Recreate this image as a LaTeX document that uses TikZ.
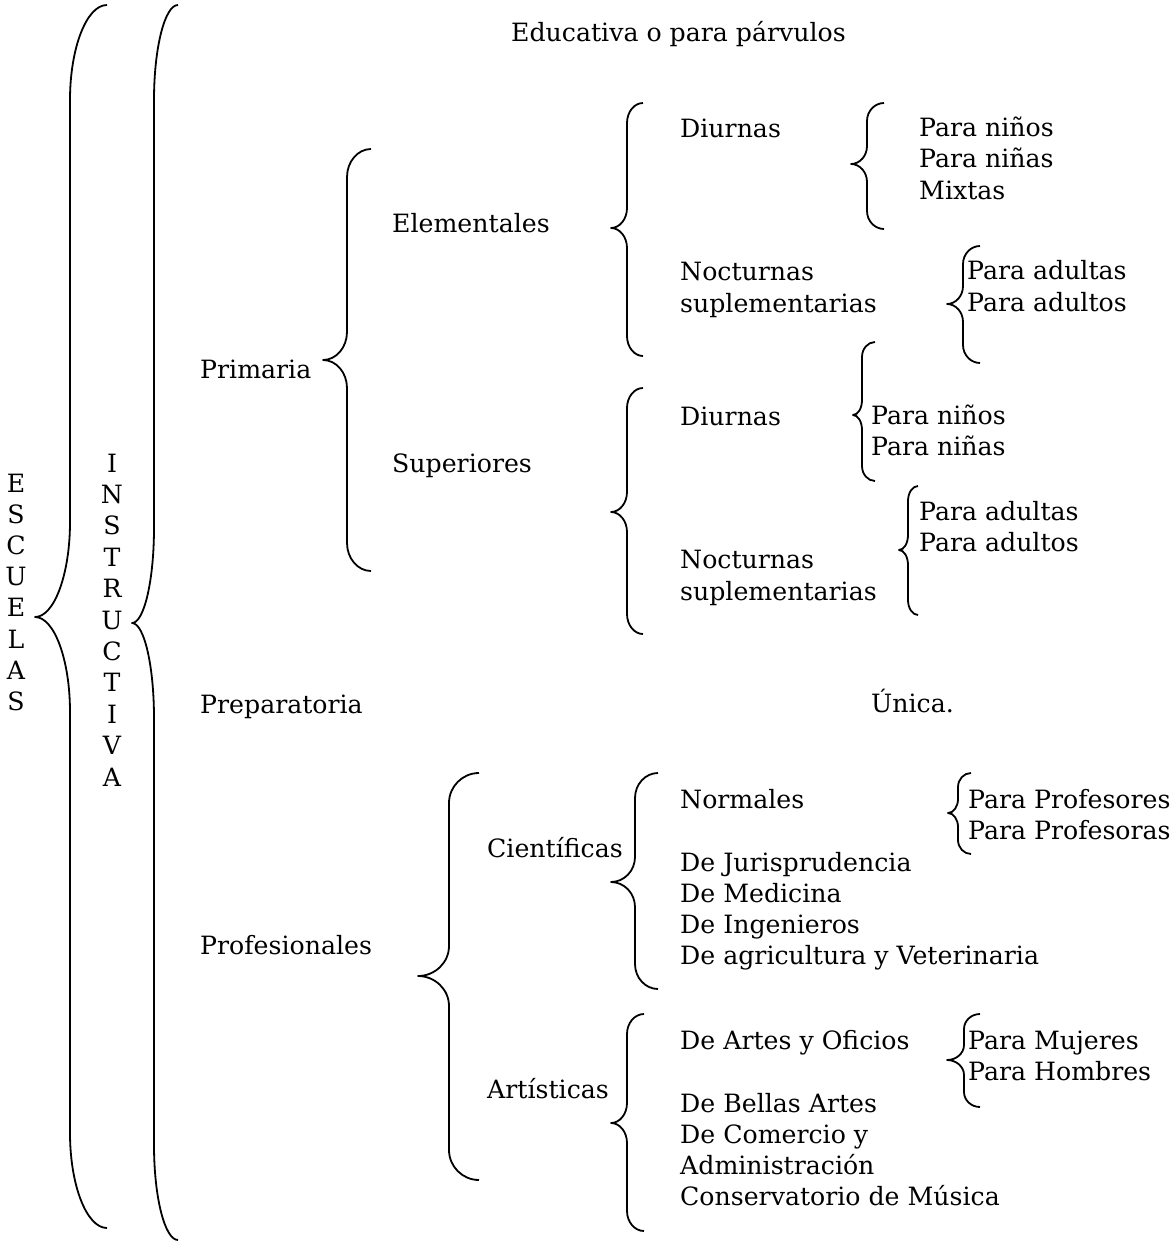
\documentclass[tikz,border=0pt]{standalone}
\usepackage{fontspec}
\setmainfont{DejaVu Serif}
\usetikzlibrary{positioning}
% brace: ends x, stem x, tip x, top y, tip y, bottom y, curve length
\newcommand{\curly}[7]{%
  \draw[brace] (#1,#4) .. controls ({#1-0.55*(#1-#2)},#4) and (#2,{#4+0.45*#7}) .. (#2,{#4+#7})
    -- (#2,{#5-#7}) .. controls (#2,{#5-0.45*#7}) and ({#3+0.55*(#2-#3)},#5) .. (#3,#5)
    .. controls ({#3+0.55*(#2-#3)},#5) and (#2,{#5+0.45*#7}) .. (#2,{#5+#7})
    -- (#2,{#6-#7}) .. controls (#2,{#6-0.45*#7}) and ({#1-0.55*(#1-#2)},#6) .. (#1,#6);}

\begin{document}
\begin{tikzpicture}[x=1pt,y=-1pt,
    txt/.style={inner sep=0pt, anchor=base west, font=\fontsize{25.2}{30}\selectfont},
    brace/.style={line width=1.8pt, line join=round}]
        \useasboundingbox (0,0) rectangle (1171,1242);
        %vertical words
        \foreach \l [count=\i from 0] in {E,S,C,U,E,L,A,S}
          \node[txt, anchor=base] (esc\i) at (16,{492+31.2*\i}) {\l};
        \foreach \l [count=\i from 0] in {I,N,S,T,R,U,C,T,I,V,A}
          \node[txt, anchor=base] (ins\i) at (112,{472+31.4*\i}) {\l};
        %first level
        \node[txt] (educ) at (511,41) {Educativa o para párvulos};
        \node[txt] (prim) at (200,378) {Primaria};
        \node[txt] (prep) at (200,713) {Preparatoria};
        \node[txt] (unica) at (871,712) {Única.};
        \node[txt] (prof) at (200,954) {Profesionales};
        %primaria
        \node[txt] (elem) at (392,232) {Elementales};
        \node[txt] (sup) at (392,472) {Superiores};
        \node[txt] (diurA) at (680,137) {Diurnas};
        \node[txt] (nocA) at (680,280) {Nocturnas};
        \node[txt] (suplA) at (680,312) {suplementarias};
        \node[txt] (ninosA) at (919,136) {Para niños};
        \node[txt] (ninasA) at (919,167) {Para niñas};
        \node[txt] (mixtas) at (919,199) {Mixtas};
        \node[txt] (adultasA) at (967,279) {Para adultas};
        \node[txt] (adultosA) at (967,311) {Para adultos};
        \node[txt] (diurB) at (680,425) {Diurnas};
        \node[txt] (ninosB) at (871,424) {Para niños};
        \node[txt] (ninasB) at (871,455) {Para niñas};
        \node[txt] (nocB) at (680,568) {Nocturnas};
        \node[txt] (suplB) at (680,600) {suplementarias};
        \node[txt] (adultasB) at (919,520) {Para adultas};
        \node[txt] (adultosB) at (919,551) {Para adultos};
        %profesionales
        \node[txt] (cient) at (487,857) {Científicas};
        \node[txt] (normales) at (680,808) {Normales};
        \node[txt] (profesores) at (968,808) {Para Profesores};
        \node[txt] (profesoras) at (968,839) {Para Profesoras};
        \node[txt] (jur) at (680,871) {De Jurisprudencia};
        \node[txt] (med) at (680,902) {De Medicina};
        \node[txt] (ing) at (680,933) {De Ingenieros};
        \node[txt] (agr) at (680,964) {De agricultura y Veterinaria};
        \node[txt] (art) at (487,1098) {Artísticas};
        \node[txt] (oficios) at (680,1049) {De Artes y Oficios};
        \node[txt] (mujeres) at (968,1049) {Para Mujeres};
        \node[txt] (hombres) at (968,1080) {Para Hombres};
        \node[txt] (bellas) at (680,1112) {De Bellas Artes};
        \node[txt] (comercio) at (680,1143) {De Comercio y};
        \node[txt] (admin) at (680,1174) {Administración};
        \node[txt] (conserv) at (680,1205) {Conservatorio de Música};
        %braces
        \curly{107}{70}{35}{5}{617}{1228}{95}
        \curly{178}{154}{132}{5}{623}{1240}{95}
        \curly{371}{347}{323}{149}{360}{571}{28}
        \curly{643}{627}{611}{103}{228}{356}{20}
        \curly{884}{867}{851}{103}{164}{229}{18}
        \curly{980}{963}{947}{246}{304}{363}{18}
        \curly{643}{627}{611}{388}{512}{634}{20}
        \curly{875}{862}{853}{342}{415}{481}{15}
        \curly{918}{908}{899}{486}{550}{615}{15}
        \curly{479}{449}{418}{773}{976}{1180}{30}
        \curly{658}{635}{611}{773}{882}{989}{25}
        \curly{971}{958}{948}{773}{813}{854}{14}
        \curly{644}{627}{611}{1014}{1123}{1231}{20}
        \curly{980}{964}{947}{1014}{1060}{1107}{15}
      \end{tikzpicture}
\end{document}
